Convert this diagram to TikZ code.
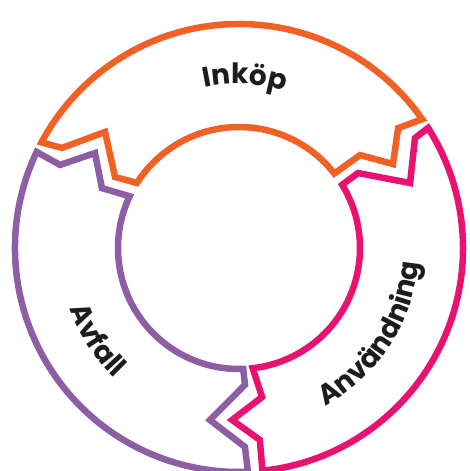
\documentclass[tikz,border=0pt]{standalone}
\usepackage{fontspec}
\setmainfont{Poppins}
\usetikzlibrary{decorations.text}
\definecolor{inkopc}{RGB}{241,96,36}
\definecolor{anvc}{RGB}{233,18,112}
\definecolor{avfc}{RGB}{142,94,164}
\definecolor{txtc}{RGB}{30,28,30}
\newcommand\lblfont{\fontsize{28pt}{32pt}\selectfont\bfseries\color{txtc}}
\tikzset{
  seg/.style={line width=6.5pt, line join=miter, miter limit=10},
  lbl/.style={decorate, decoration={text along path, text align=center}}
}
\begin{document}
\begin{tikzpicture}
\useasboundingbox (0pt,0pt) rectangle (469pt,471pt);
\begin{scope}[shift={(239pt,223pt)}]
% Inkop (orange, top)
\draw[seg, inkopc] (35.1:224pt) arc[start angle=35.1, end angle=151.9, radius=224pt]
  -- (150.5:203.3pt) -- (139.1:177.2pt) -- (150.2:142.9pt) -- (147.5:121pt)
  arc[start angle=147.5, end angle=38, radius=121pt]
  -- (37.5:152.6pt) -- (28.6:175.4pt) -- (37.0:199.2pt) -- cycle;
% Avfall (purple, left)
\draw[seg, avfc] (154.6:224pt) arc[start angle=154.6, end angle=272.3, radius=224pt]
  -- (271.7:199pt) -- (260.4:174.4pt) -- (272.5:137pt) -- (272:121pt)
  arc[start angle=272, end angle=154.7, radius=121pt]
  -- (156.4:149.6pt) -- (146.6:172.5pt) -- (155.1:197.3pt) -- cycle;
% Anvandning (pink, right)
\draw[seg, anvc] (276:224pt) arc[start angle=276, end angle=392.4, radius=224pt]
  -- (32:207.5pt) -- (20.8:183pt) -- (32.2:140.7pt) -- (31.5:121pt)
  arc[start angle=391.5, end angle=276.5, radius=121pt]
  -- (278.8:150.8pt) -- (267.7:172.1pt) -- (276.2:193.1pt) -- cycle;
% labels
\path[lbl, decoration={text={|\lblfont|Inköp}}]
  (130:164pt) arc[start angle=130, end angle=46, radius=164pt];
\path[lbl, decoration={text={|\lblfont|Avfall}}]
  (163:180pt) arc[start angle=163, end angle=263, radius=180pt];
\path[lbl, decoration={text={|\lblfont|Användning}}]
  (277:180pt) arc[start angle=277, end angle=377, radius=180pt];
\end{scope}
\end{tikzpicture}
\end{document}
